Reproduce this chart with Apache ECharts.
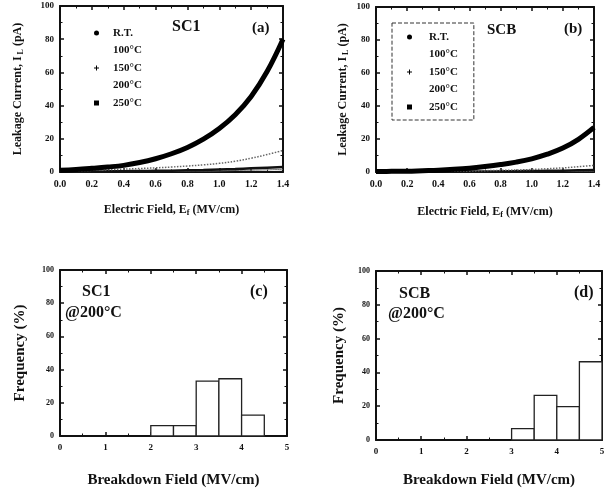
<!DOCTYPE html>
<html>
<head>
<meta charset="utf-8">
<script src="https://cdn.jsdelivr.net/npm/echarts@6/dist/echarts.min.js"></script>
<style>
  html, body { margin: 0; background: #fff; }
  #chart { width: 614px; height: 489px; }
</style>
</head>
<body>
<div id="chart"></div>
<script>
// electric field sample points (MV/cm)
const fieldSteps = [0.0, 0.1, 0.2, 0.3, 0.4, 0.5, 0.6, 0.7, 0.8, 0.9, 1.0, 1.1, 1.2, 1.3, 1.4];
const tempNames = ['R.T.', '100°C', '150°C', '200°C', '250°C'];

// leakage current (pA), SC1
const sc1RT = [0, 0, 0, 0, 0, 0, 0, 0, 0, 0, 0.1, 0.1, 0.2, 0.2, 0.3];
const sc1T100 = [0.1, 0.1, 0.1, 0.2, 0.2, 0.3, 0.3, 0.4, 0.5, 0.6, 0.7, 0.9, 1.1, 1.3, 1.6];
const sc1T150 = [0.2, 0.3, 0.3, 0.4, 0.5, 0.6, 0.7, 0.8, 1.0, 1.2, 1.5, 1.8, 2.2, 2.6, 3.0];
const sc1T200 = [0.5, 0.7, 1.0, 1.3, 1.7, 2.1, 2.5, 3.0, 3.6, 4.3, 5.2, 6.5, 8.3, 10.5, 13.0];
const sc1T250 = [1.0, 1.5, 2.2, 3.0, 4.0, 5.7, 8.0, 11.0, 14.8, 19.8, 26.2, 34.5, 45.5, 60.5, 80.0];

// leakage current (pA), SCB
const scbRT = [0, 0, 0, 0, 0, 0, 0, 0, 0, 0, 0, 0, 0.1, 0.1, 0.2];
const scbT100 = [0, 0, 0, 0, 0, 0.1, 0.1, 0.1, 0.1, 0.2, 0.2, 0.3, 0.3, 0.4, 0.5];
const scbT150 = [0.1, 0.1, 0.1, 0.1, 0.2, 0.2, 0.3, 0.3, 0.4, 0.5, 0.6, 0.7, 0.8, 1.0, 1.2];
const scbT200 = [0.1, 0.2, 0.2, 0.3, 0.4, 0.5, 0.6, 0.8, 1.0, 1.2, 1.5, 2.0, 2.5, 3.2, 4.0];
const scbT250 = [0.3, 0.4, 0.5, 0.8, 1.1, 1.6, 2.3, 3.3, 4.5, 6.0, 8.0, 10.8, 14.5, 19.8, 27.0];

// breakdown field histograms @200°C (bins of 0.5 MV/cm)
const binLefts = [2.0, 2.5, 3.0, 3.5, 4.0, 4.5];
const binWidth = 0.5;
const sc1Freq = [6.2, 6.2, 33.0, 34.5, 12.6, 0];
const scbFreq = [0, 0, 6.7, 26.4, 19.7, 46.3];

const serif = '"Liberation Serif", "DejaVu Serif", serif';
const ink = '#111';

const lineStyles = [
  { color: '#111', width: 1.5, type: 'solid' },
  { color: '#777', width: 1, type: 'solid' },
  { color: '#111', width: 2.5, type: 'solid' },
  { color: '#666', width: 1.5, type: 'dotted' },
  { color: '#000', width: 5, type: 'solid' }
];
const legendIcons = [
  'circle',
  'none',
  'path://M2,0H3V2H5V3H3V5H2V3H0V2H2Z',
  'none',
  'rect'
];

const chart = echarts.init(document.getElementById('chart'), null, { renderer: 'canvas' });

function frameBits() {
  return {
    splitLine: { show: false },
    axisLine: { show: true, onZero: false, lineStyle: { color: ink, width: 2 } },
    axisTick: { show: true, inside: true, length: 4, lineStyle: { color: ink, width: 1.5 } },
    minorTick: { show: true, splitNumber: 2, length: 2.5, lineStyle: { color: ink, width: 1 } }
  };
}

function richName(size, subSize) {
  return {
    t: { fontFamily: serif, fontWeight: 'bold', fontSize: size, color: ink, lineHeight: size + 2 },
    s: { fontFamily: serif, fontWeight: 'bold', fontSize: subSize, color: ink, lineHeight: subSize, verticalAlign: 'bottom' }
  };
}

function xPair(grid, max, interval, fmt, labelSize, name, nameSize, nameGap) {
  return [
    {
      type: 'value', gridIndex: grid, min: 0, max, interval, position: 'bottom', ...frameBits(),
      axisLabel: { margin: 7, fontFamily: serif, fontWeight: 'bold', fontSize: labelSize, color: ink, formatter: fmt },
      name, nameLocation: 'middle', nameGap,
      nameTextStyle: { fontFamily: serif, fontWeight: 'bold', fontSize: nameSize, color: ink, rich: richName(nameSize, nameSize - 4) }
    },
    { type: 'value', gridIndex: grid, min: 0, max, interval, position: 'top', ...frameBits(), axisLabel: { show: false } }
  ];
}

function yPair(grid, labelSize, name, nameSize, nameGap) {
  return [
    {
      type: 'value', gridIndex: grid, min: 0, max: 100, interval: 20, position: 'left', ...frameBits(),
      axisLabel: { margin: 6, fontFamily: serif, fontWeight: 'bold', fontSize: labelSize, color: ink },
      name, nameLocation: 'middle', nameGap, nameRotate: 90,
      nameTextStyle: { fontFamily: serif, fontWeight: 'bold', fontSize: nameSize, color: ink, rich: richName(nameSize, nameSize - 4) }
    },
    { type: 'value', gridIndex: grid, min: 0, max: 100, interval: 20, position: 'right', ...frameBits(), axisLabel: { show: false } }
  ];
}

function leakSeries(axisIndex, sets) {
  return sets.map((values, i) => ({
    name: tempNames[i],
    type: 'line',
    xAxisIndex: axisIndex,
    yAxisIndex: axisIndex,
    showSymbol: false,
    symbol: 'none',
    smooth: 0.4,
    animation: false,
    z: 2 + i,
    itemStyle: { color: '#000' },
    lineStyle: lineStyles[i],
    data: fieldSteps.map((x, j) => [x, values[j]])
  }));
}

function histSeries(axisIndex, freqs) {
  return {
    type: 'custom',
    xAxisIndex: axisIndex,
    yAxisIndex: axisIndex,
    animation: false,
    encode: { x: [0, 1], y: 2 },
    data: binLefts
      .map((left, i) => [left, left + binWidth, freqs[i]])
      .filter(item => item[2] > 0),
    renderItem: (params, api) => {
      const topLeft = api.coord([api.value(0), api.value(2)]);
      const bottomRight = api.coord([api.value(1), 0]);
      return {
        type: 'rect',
        shape: {
          x: topLeft[0], y: topLeft[1],
          width: bottomRight[0] - topLeft[0], height: bottomRight[1] - topLeft[1]
        },
        style: { fill: '#fff', stroke: '#222', lineWidth: 1.3 }
      };
    }
  };
}

function legendFor(left, top, extra) {
  return {
    left, top,
    orient: 'vertical',
    itemWidth: 5,
    itemHeight: 5,
    itemGap: 5.5,
    selectedMode: false,
    textStyle: { fontFamily: serif, fontWeight: 'bold', fontSize: 11, color: ink, lineHeight: 12 },
    data: tempNames.map((name, i) => ({ name, icon: legendIcons[i] })),
    ...extra
  };
}

function label(text, x, y, size) {
  return {
    type: 'text',
    x, y,
    style: { text, font: 'bold ' + size + 'px ' + serif, fill: ink, verticalAlign: 'middle' }
  };
}

const fieldFmt = value => value.toFixed(1);
const leakName = '{t|Leakage Current, I}{s| L}{t| (pA)}';
const fieldName = '{t|Electric Field, E}{s|f}{t| (MV/cm)}';

chart.setOption({
  animation: false,
  backgroundColor: '#fff',
  grid: [
    { left: 60, top: 6, width: 223, height: 166 },
    { left: 376, top: 7, width: 218, height: 165 },
    { left: 60, top: 270, width: 227, height: 166 },
    { left: 376, top: 271, width: 226, height: 169 }
  ],
  xAxis: [
    ...xPair(0, 1.4, 0.2, fieldFmt, 10, fieldName, 12, 31),
    ...xPair(1, 1.4, 0.2, fieldFmt, 10, fieldName, 12, 33),
    ...xPair(2, 5, 1, null, 9, 'Breakdown Field (MV/cm)', 15, 37),
    ...xPair(3, 5, 1, null, 9, 'Breakdown Field (MV/cm)', 15, 33)
  ],
  yAxis: [
    ...yPair(0, 9, leakName, 12, 35),
    ...yPair(1, 9, leakName, 12, 26),
    ...yPair(2, 8, 'Frequency (%)', 15, 32),
    ...yPair(3, 8, 'Frequency (%)', 15, 29)
  ],
  legend: [
    legendFor(94, 27, { padding: 0, textStyle: { fontFamily: serif, fontWeight: 'bold', fontSize: 11, color: ink, lineHeight: 12, padding: [0, 0, 0, 9] } }),
    legendFor(392, 23, {
      padding: [8, 16, 7, 15],
      borderColor: '#333', borderWidth: 1, borderType: 'dashed',
      textStyle: { fontFamily: serif, fontWeight: 'bold', fontSize: 11, color: ink, lineHeight: 12, padding: [0, 0, 0, 12] }
    })
  ],
  graphic: [
    label('SC1', 172, 27, 16),
    label('(a)', 252, 28, 15),
    label('SCB', 487, 30, 15),
    label('(b)', 564, 29, 15),
    label('SC1', 82, 292, 16),
    label('@200°C', 65, 313, 16),
    label('(c)', 250, 292, 16),
    label('SCB', 399, 294, 16),
    label('@200°C', 388, 314, 16),
    label('(d)', 574, 293, 16)
  ],
  series: [
    ...leakSeries(0, [sc1RT, sc1T100, sc1T150, sc1T200, sc1T250]),
    ...leakSeries(2, [scbRT, scbT100, scbT150, scbT200, scbT250]),
    histSeries(4, sc1Freq),
    histSeries(6, scbFreq)
  ]
});

window.addEventListener('resize', () => chart.resize());
</script>
</body>
</html>
